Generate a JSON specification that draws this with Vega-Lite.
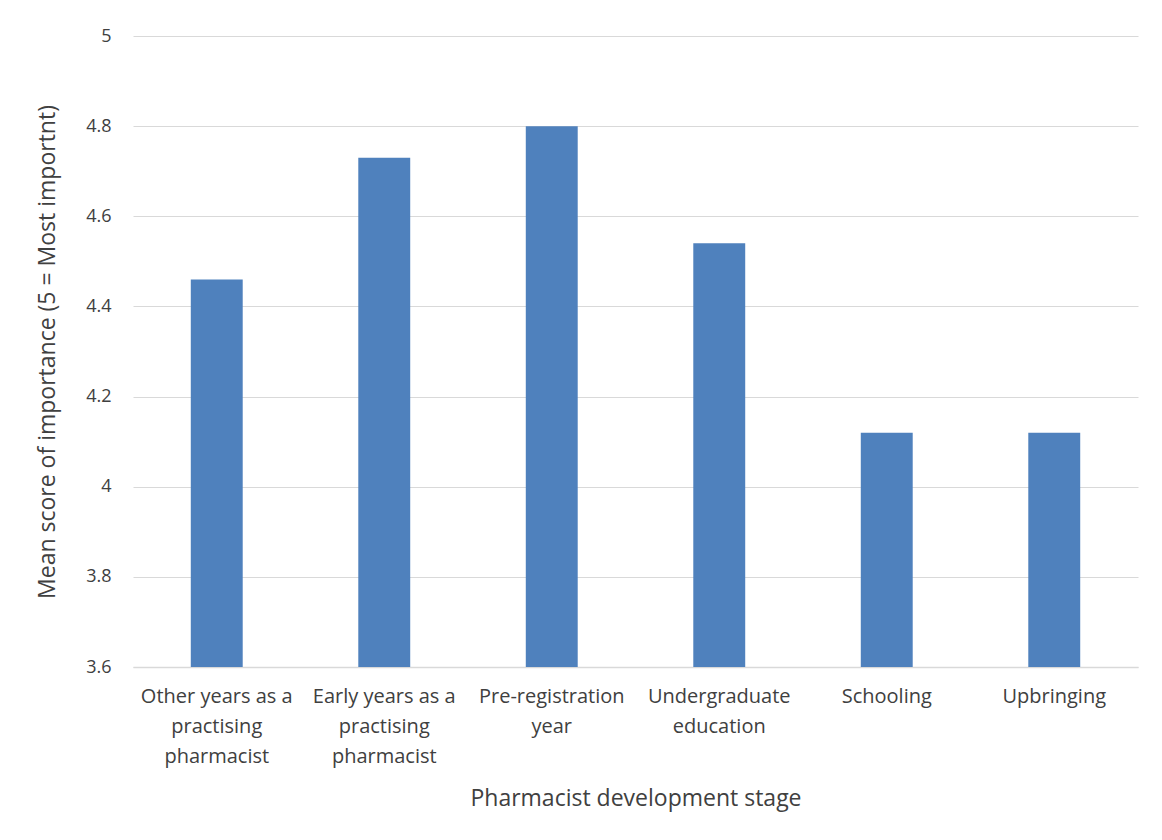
{
  "$schema": "https://vega.github.io/schema/vega-lite/v6.json",
  "autosize": {"type": "none"},
  "padding": {"left": 133, "top": 36, "right": 24, "bottom": 173},
  "width": 1005,
  "height": 631,
  "background": "white",
  "data": {
    "values": [
      {"stage": "Other years as a practising pharmacist", "score": 4.46},
      {"stage": "Early years as a practising pharmacist", "score": 4.73},
      {"stage": "Pre-registration year", "score": 4.80},
      {"stage": "Undergraduate education", "score": 4.54},
      {"stage": "Schooling", "score": 4.12},
      {"stage": "Upbringing", "score": 4.12}
    ]
  },
  "mark": {"type": "bar", "color": "#4F81BD", "clip": true},
  "encoding": {
    "x": {
      "field": "stage",
      "type": "nominal",
      "sort": null,
      "scale": {"paddingInner": 0.69, "paddingOuter": 0.345},
      "axis": {
        "title": "Pharmacist development stage",
        "titleFont": "Open Sans",
        "titleFontSize": 23,
        "titleFontWeight": "normal",
        "titleColor": "#404040",
        "titlePadding": 21,
        "labelAngle": 0,
        "labelFont": "Open Sans",
        "labelFontSize": 20,
        "labelColor": "#404040",
        "labelLineHeight": 30,
        "labelPadding": 19,
        "ticks": false,
        "domainColor": "#d9d9d9",
        "domainWidth": 1.5,
        "labelExpr": "datum.value == 'Other years as a practising pharmacist' ? ['Other years as a', 'practising', 'pharmacist'] : datum.value == 'Early years as a practising pharmacist' ? ['Early years as a', 'practising', 'pharmacist'] : datum.value == 'Pre-registration year' ? ['Pre-registration', 'year'] : datum.value == 'Undergraduate education' ? ['Undergraduate', 'education'] : datum.value"
      }
    },
    "y": {
      "field": "score",
      "type": "quantitative",
      "scale": {"domain": [3.6, 5], "nice": false, "zero": false},
      "axis": {
        "title": "Mean score of importance (5 = Most importnt)",
        "titleFont": "Open Sans",
        "titleFontSize": 23,
        "titleFontWeight": "normal",
        "titleColor": "#404040",
        "titlePadding": 26,
        "values": [3.6, 3.8, 4, 4.2, 4.4, 4.6, 4.8, 5],
        "labelExpr": "format(datum.value, '.1~f')",
        "labelFont": "Open Sans",
        "labelFontSize": 18,
        "labelColor": "#404040",
        "labelPadding": 22,
        "ticks": false,
        "domain": false,
        "gridColor": "#d9d9d9",
        "gridWidth": 1.2
      }
    }
  },
  "config": {"view": {"stroke": null}}
}
